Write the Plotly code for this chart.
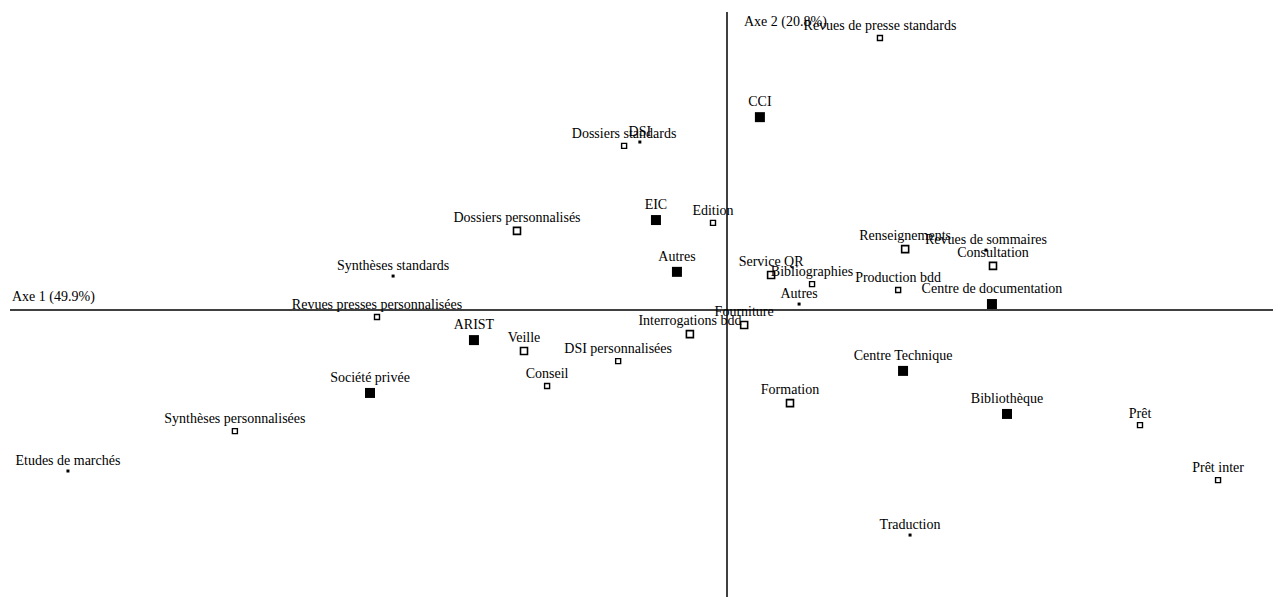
import plotly.graph_objects as go

# --- Data: correspondence-analysis coordinates (Axe 1, Axe 2) ---
# Organisation types (filled squares)
org_labels = ["CCI", "EIC", "Autres", "ARIST", "Société privée",
              "Centre de documentation", "Centre Technique", "Bibliothèque"]
org_x = [0.094, -0.203, -0.143, -0.723, -1.020, 0.757, 0.503, 0.800]
org_y = [0.551, 0.257, 0.109, -0.086, -0.237, 0.017, -0.174, -0.297]

# Services (open squares, larger)
svc_a_labels = ["Dossiers personnalisés", "Service QR", "Renseignements", "Consultation",
                "Fourniture", "Interrogations bdd", "Veille", "Formation"]
svc_a_x = [-0.600, 0.126, 0.509, 0.760, 0.049, -0.106, -0.580, 0.180]
svc_a_y = [0.226, 0.100, 0.174, 0.126, -0.043, -0.069, -0.117, -0.266]

# Services (open squares, smaller)
svc_b_labels = ["Revues de presse standards", "Dossiers standards", "Edition", "Bibliographies",
                "Production bdd", "Revues presses personnalisées", "DSI personnalisées", "Conseil",
                "Synthèses personnalisées", "Prêt", "Prêt inter"]
svc_b_x = [0.437, -0.294, -0.040, 0.243, 0.489, -1.000, -0.311, -0.514, -1.406, 1.180, 1.403]
svc_b_y = [0.777, 0.469, 0.249, 0.074, 0.057, -0.020, -0.146, -0.217, -0.346, -0.329, -0.486]

# Services (small dots)
dot_labels = ["DSI", "Synthèses standards", "Autres", "Revues de sommaires",
              "Etudes de marchés", "Traduction"]
dot_x = [-0.249, -0.954, 0.206, 0.740, -1.883, 0.523]
dot_y = [0.480, 0.097, 0.017, 0.171, -0.460, -0.643]

axis1_title = "Axe 1 (49.9%)"
axis2_title = "Axe 2 (20.8%)"

# --- Layout constants ---
PAGE_OFF = 8                 # default page body margin
W, H = 1281 - PAGE_OFF, 597 - PAGE_OFF
S = 350.0                    # pixels per unit
OX, OY = 727 - PAGE_OFF, 310 - PAGE_OFF   # origin inside figure
x_range = [-OX / S, (W - OX) / S]
y_range = [(OY - H) / S, OY / S]

FONT = dict(family="Liberation Serif, Times New Roman, serif", size=14, color="black")

fig = go.Figure()

fig.add_trace(go.Scatter(
    x=org_x, y=org_y, text=org_labels, mode="markers+text",
    textposition="top center", textfont=FONT,
    marker=dict(symbol="square", size=10, color="black"),
    hoverinfo="text", showlegend=False))

fig.add_trace(go.Scatter(
    x=svc_a_x, y=svc_a_y, text=svc_a_labels, mode="markers+text",
    textposition="top center", textfont=FONT,
    marker=dict(symbol="square-open", size=7, color="black", line=dict(width=1.6, color="black")),
    hoverinfo="text", showlegend=False))

fig.add_trace(go.Scatter(
    x=svc_b_x, y=svc_b_y, text=svc_b_labels, mode="markers+text",
    textposition="top center", textfont=FONT,
    marker=dict(symbol="square-open", size=5, color="black", line=dict(width=1.4, color="black")),
    hoverinfo="text", showlegend=False))

fig.add_trace(go.Scatter(
    x=dot_x, y=dot_y, text=dot_labels, mode="markers+text",
    textposition="top center", textfont=FONT,
    marker=dict(symbol="square", size=3, color="black"),
    hoverinfo="text", showlegend=False))

# Axis lines through origin
fig.add_shape(type="line", x0=(10 - 727) / S, x1=x_range[1], y0=0, y1=0,
              line=dict(color="black", width=1.5), layer="below")
fig.add_shape(type="line", x0=0, x1=0, y0=(310 - 12) / S, y1=y_range[0],
              line=dict(color="black", width=1.5), layer="below")

fig.add_annotation(x=(10 - 727) / S, y=0, text=axis1_title, showarrow=False,
                   xanchor="left", yanchor="bottom", yshift=3, font=FONT)
fig.add_annotation(x=(742 - 727) / S, y=(310 - 22) / S, text=axis2_title, showarrow=False,
                   xanchor="left", yanchor="middle", font=FONT)

fig.update_layout(
    width=W, height=H,
    margin=dict(l=0, r=0, t=0, b=0),
    paper_bgcolor="white", plot_bgcolor="white",
    xaxis=dict(range=x_range, visible=False, fixedrange=True),
    yaxis=dict(range=y_range, visible=False, fixedrange=True),
)

fig.write_html("out.html")
